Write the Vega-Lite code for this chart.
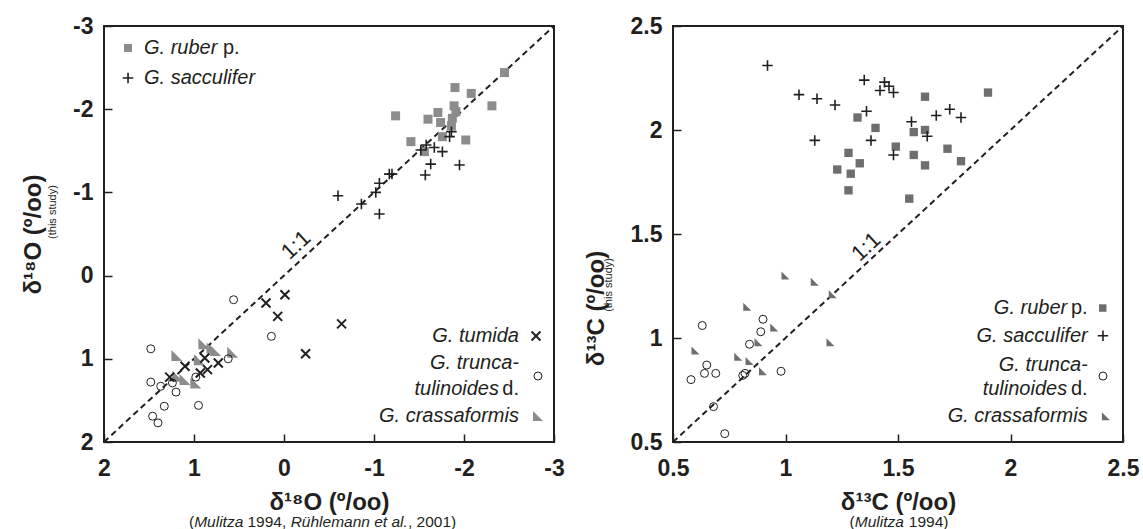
{
 "$schema": "https://vega.github.io/schema/vega-lite/v6.json",
 "padding": {"left": 20, "top": 14, "right": 5, "bottom": 5},
 "background": "white",
 "bounds": "flush",
 "spacing": 119,
 "config": {
  "view": {"stroke": "#231f20", "strokeWidth": 2},
  "font": "Liberation Sans",
  "axis": {"domain": false, "grid": false, "tickSize": -8, "tickWidth": 1.5, "tickColor": "#231f20",
   "labelFont": "Liberation Sans", "labelFontSize": 23, "labelFontWeight": "bold", "labelColor": "#231f20",
   "labelFlush": false, "labelOverlap": false,
   "titleFont": "Liberation Sans", "titleFontSize": 24, "titleFontWeight": "bold", "titleColor": "#231f20"},
  "axisX": {"labelPadding": 23, "titlePadding": 10},
  "axisY": {"labelPadding": 19, "titlePadding": 27},
  "text": {"font": "Liberation Sans", "color": "#231f20"}
 },
 "datasets": {
  "o18": [
   {"sp": "G. ruber p.", "x": -2.45, "y": -2.44}, {"sp": "G. ruber p.", "x": -1.90, "y": -2.26}, {"sp": "G. ruber p.", "x": -2.08, "y": -2.19},
   {"sp": "G. ruber p.", "x": -2.31, "y": -2.04}, {"sp": "G. ruber p.", "x": -1.24, "y": -1.92}, {"sp": "G. ruber p.", "x": -1.60, "y": -1.88},
   {"sp": "G. ruber p.", "x": -1.71, "y": -1.96}, {"sp": "G. ruber p.", "x": -1.74, "y": -1.84}, {"sp": "G. ruber p.", "x": -1.89, "y": -2.04},
   {"sp": "G. ruber p.", "x": -1.91, "y": -1.97}, {"sp": "G. ruber p.", "x": -1.87, "y": -1.89}, {"sp": "G. ruber p.", "x": -1.86, "y": -1.80},
   {"sp": "G. ruber p.", "x": -2.02, "y": -1.63}, {"sp": "G. ruber p.", "x": -1.41, "y": -1.61}, {"sp": "G. ruber p.", "x": -1.76, "y": -1.67},
   {"sp": "G. ruber p.", "x": -1.56, "y": -1.49},
   {"sp": "G. sacculifer", "x": -1.86, "y": -1.73}, {"sp": "G. sacculifer", "x": -1.84, "y": -1.67}, {"sp": "G. sacculifer", "x": -1.52, "y": -1.51},
   {"sp": "G. sacculifer", "x": -1.58, "y": -1.57}, {"sp": "G. sacculifer", "x": -1.67, "y": -1.54}, {"sp": "G. sacculifer", "x": -1.76, "y": -1.49},
   {"sp": "G. sacculifer", "x": -1.63, "y": -1.34}, {"sp": "G. sacculifer", "x": -1.95, "y": -1.33}, {"sp": "G. sacculifer", "x": -1.57, "y": -1.21},
   {"sp": "G. sacculifer", "x": -1.17, "y": -1.22}, {"sp": "G. sacculifer", "x": -1.20, "y": -1.22}, {"sp": "G. sacculifer", "x": -1.06, "y": -1.11},
   {"sp": "G. sacculifer", "x": -1.02, "y": -1.00}, {"sp": "G. sacculifer", "x": -0.86, "y": -0.86}, {"sp": "G. sacculifer", "x": -0.60, "y": -0.96},
   {"sp": "G. sacculifer", "x": -1.06, "y": -0.74},
   {"sp": "G. tumida", "x": -0.01, "y": 0.23}, {"sp": "G. tumida", "x": 0.20, "y": 0.33}, {"sp": "G. tumida", "x": 0.07, "y": 0.49},
   {"sp": "G. tumida", "x": -0.64, "y": 0.58}, {"sp": "G. tumida", "x": -0.24, "y": 0.94}, {"sp": "G. tumida", "x": 0.88, "y": 0.99},
   {"sp": "G. tumida", "x": 0.73, "y": 1.05}, {"sp": "G. tumida", "x": 0.85, "y": 1.13}, {"sp": "G. tumida", "x": 0.93, "y": 1.17},
   {"sp": "G. tumida", "x": 1.10, "y": 1.09}, {"sp": "G. tumida", "x": 1.27, "y": 1.22},
   {"sp": "G. truncatulinoides d.", "x": 0.56, "y": 0.29}, {"sp": "G. truncatulinoides d.", "x": 0.14, "y": 0.73}, {"sp": "G. truncatulinoides d.", "x": 1.48, "y": 0.88},
   {"sp": "G. truncatulinoides d.", "x": 0.62, "y": 1.00}, {"sp": "G. truncatulinoides d.", "x": 1.48, "y": 1.28}, {"sp": "G. truncatulinoides d.", "x": 1.37, "y": 1.33},
   {"sp": "G. truncatulinoides d.", "x": 1.24, "y": 1.29}, {"sp": "G. truncatulinoides d.", "x": 1.20, "y": 1.40}, {"sp": "G. truncatulinoides d.", "x": 0.98, "y": 1.22},
   {"sp": "G. truncatulinoides d.", "x": 1.33, "y": 1.57}, {"sp": "G. truncatulinoides d.", "x": 0.95, "y": 1.56}, {"sp": "G. truncatulinoides d.", "x": 1.46, "y": 1.69},
   {"sp": "G. truncatulinoides d.", "x": 1.40, "y": 1.77},
   {"sp": "G. crassaformis", "x": 1.19, "y": 0.96}, {"sp": "G. crassaformis", "x": 0.89, "y": 0.82}, {"sp": "G. crassaformis", "x": 0.80, "y": 0.87},
   {"sp": "G. crassaformis", "x": 0.76, "y": 0.90}, {"sp": "G. crassaformis", "x": 0.57, "y": 0.92}, {"sp": "G. crassaformis", "x": 0.94, "y": 1.01},
   {"sp": "G. crassaformis", "x": 1.18, "y": 1.21}, {"sp": "G. crassaformis", "x": 1.10, "y": 1.25}, {"sp": "G. crassaformis", "x": 0.98, "y": 1.29}
  ],
  "c13": [
   {"sp": "G. sacculifer", "x": 0.92, "y": 2.31}, {"sp": "G. sacculifer", "x": 1.06, "y": 2.17}, {"sp": "G. sacculifer", "x": 1.14, "y": 2.15},
   {"sp": "G. sacculifer", "x": 1.22, "y": 2.12}, {"sp": "G. sacculifer", "x": 1.35, "y": 2.24}, {"sp": "G. sacculifer", "x": 1.36, "y": 2.09},
   {"sp": "G. sacculifer", "x": 1.44, "y": 2.23}, {"sp": "G. sacculifer", "x": 1.42, "y": 2.19}, {"sp": "G. sacculifer", "x": 1.46, "y": 2.21},
   {"sp": "G. sacculifer", "x": 1.48, "y": 2.18}, {"sp": "G. sacculifer", "x": 1.56, "y": 2.04}, {"sp": "G. sacculifer", "x": 1.63, "y": 1.97},
   {"sp": "G. sacculifer", "x": 1.67, "y": 2.07}, {"sp": "G. sacculifer", "x": 1.73, "y": 2.10}, {"sp": "G. sacculifer", "x": 1.78, "y": 2.06},
   {"sp": "G. sacculifer", "x": 1.13, "y": 1.95}, {"sp": "G. sacculifer", "x": 1.38, "y": 1.95}, {"sp": "G. sacculifer", "x": 1.48, "y": 1.88},
   {"sp": "G. ruber p.", "x": 1.62, "y": 2.16}, {"sp": "G. ruber p.", "x": 1.90, "y": 2.18}, {"sp": "G. ruber p.", "x": 1.32, "y": 2.06},
   {"sp": "G. ruber p.", "x": 1.40, "y": 2.01}, {"sp": "G. ruber p.", "x": 1.57, "y": 1.99}, {"sp": "G. ruber p.", "x": 1.62, "y": 2.00},
   {"sp": "G. ruber p.", "x": 1.49, "y": 1.92}, {"sp": "G. ruber p.", "x": 1.28, "y": 1.89}, {"sp": "G. ruber p.", "x": 1.33, "y": 1.84},
   {"sp": "G. ruber p.", "x": 1.23, "y": 1.81}, {"sp": "G. ruber p.", "x": 1.29, "y": 1.79}, {"sp": "G. ruber p.", "x": 1.28, "y": 1.71},
   {"sp": "G. ruber p.", "x": 1.57, "y": 1.88}, {"sp": "G. ruber p.", "x": 1.62, "y": 1.83}, {"sp": "G. ruber p.", "x": 1.72, "y": 1.91},
   {"sp": "G. ruber p.", "x": 1.78, "y": 1.85}, {"sp": "G. ruber p.", "x": 1.55, "y": 1.67},
   {"sp": "G. crassaformis", "x": 1.00, "y": 1.30}, {"sp": "G. crassaformis", "x": 1.13, "y": 1.27}, {"sp": "G. crassaformis", "x": 1.21, "y": 1.21},
   {"sp": "G. crassaformis", "x": 0.83, "y": 1.15}, {"sp": "G. crassaformis", "x": 0.95, "y": 1.05}, {"sp": "G. crassaformis", "x": 0.60, "y": 0.94},
   {"sp": "G. crassaformis", "x": 0.79, "y": 0.91}, {"sp": "G. crassaformis", "x": 0.84, "y": 0.89}, {"sp": "G. crassaformis", "x": 0.88, "y": 0.98},
   {"sp": "G. crassaformis", "x": 0.90, "y": 0.84}, {"sp": "G. crassaformis", "x": 1.20, "y": 0.98},
   {"sp": "G. truncatulinoides d.", "x": 0.63, "y": 1.06}, {"sp": "G. truncatulinoides d.", "x": 0.90, "y": 1.09}, {"sp": "G. truncatulinoides d.", "x": 0.89, "y": 1.03},
   {"sp": "G. truncatulinoides d.", "x": 0.84, "y": 0.97}, {"sp": "G. truncatulinoides d.", "x": 0.58, "y": 0.80}, {"sp": "G. truncatulinoides d.", "x": 0.65, "y": 0.87},
   {"sp": "G. truncatulinoides d.", "x": 0.64, "y": 0.83}, {"sp": "G. truncatulinoides d.", "x": 0.69, "y": 0.83}, {"sp": "G. truncatulinoides d.", "x": 0.82, "y": 0.83},
   {"sp": "G. truncatulinoides d.", "x": 0.81, "y": 0.82}, {"sp": "G. truncatulinoides d.", "x": 0.98, "y": 0.84}, {"sp": "G. truncatulinoides d.", "x": 0.68, "y": 0.67},
   {"sp": "G. truncatulinoides d.", "x": 0.73, "y": 0.54}
  ],
  "o18key": [
   {"sp": "G. ruber p.", "x": 1.733, "y": -2.736}, {"sp": "G. sacculifer", "x": 1.733, "y": -2.375},
   {"sp": "G. tumida", "x": -2.8, "y": 0.726}, {"sp": "G. truncatulinoides d.", "x": -2.822, "y": 1.207},
   {"sp": "G. crassaformis", "x": -2.822, "y": 1.688}
  ],
  "c13key": [
   {"sp": "G. ruber p.", "x": 2.41, "y": 1.144}, {"sp": "G. sacculifer", "x": 2.411, "y": 1.011},
   {"sp": "G. truncatulinoides d.", "x": 2.411, "y": 0.817}, {"sp": "G. crassaformis", "x": 2.424, "y": 0.624}
  ]
 },
 "hconcat": [
  {
   "width": 450, "height": 416,
   "encoding": {
    "x": {"field": "x", "type": "quantitative", "scale": {"domain": [-3, 2], "reverse": true, "nice": false, "zero": false},
     "axis": {"values": [2, 1, 0, -1, -2, -3], "labelExpr": "'' + datum.value", "title": "δ¹⁸O (º/oo)"}},
    "y": {"field": "y", "type": "quantitative", "scale": {"domain": [-3, 2], "reverse": true, "nice": false, "zero": false},
     "axis": {"values": [2, 1, 0, -1, -2, -3], "labelExpr": "'' + datum.value", "title": "δ¹⁸O (º/oo)"}}
   },
   "layer": [
    {"data": {"values": [{"x": 2, "y": 2, "x2": -3, "y2": -3}]}, "mark": {"type": "rule", "strokeDash": [6, 4], "strokeWidth": 2, "color": "#231f20"},
     "encoding": {"x2": {"field": "x2"}, "y2": {"field": "y2"}}},
    {"data": {"values": [{"t": "1:1", "x": -0.133, "y": -0.368}]}, "mark": {"type": "text", "angle": 317, "fontSize": 22, "align": "center", "baseline": "middle"},
     "encoding": {"text": {"field": "t"}}},
    {"data": {"name": "o18"}, "transform": [{"filter": "datum.sp === 'G. crassaformis'"}],
     "mark": {"type": "point", "shape": "M-1,-1L1,1L-1,1Z", "size": 121, "filled": true, "color": "#8c8c8c", "opacity": 1}},
    {"data": {"name": "o18"}, "transform": [{"filter": "datum.sp === 'G. truncatulinoides d.'"}],
     "mark": {"type": "point", "shape": "circle", "size": 64, "filled": false, "color": "#231f20", "strokeWidth": 1, "opacity": 1}},
    {"data": {"name": "o18"}, "transform": [{"filter": "datum.sp === 'G. tumida'"}],
     "mark": {"type": "point", "shape": "M-1,-1L1,1M-1,1L1,-1", "size": 81, "filled": false, "color": "#231f20", "strokeWidth": 2, "opacity": 1}},
    {"data": {"name": "o18"}, "transform": [{"filter": "datum.sp === 'G. ruber p.'"}],
     "mark": {"type": "point", "shape": "square", "size": 81, "filled": true, "color": "#8c8c8c", "opacity": 1}},
    {"data": {"name": "o18"}, "transform": [{"filter": "datum.sp === 'G. sacculifer'"}],
     "mark": {"type": "point", "shape": "M-1,0L1,0M0,-1L0,1", "size": 110, "filled": false, "color": "#231f20", "strokeWidth": 1.6, "opacity": 1}},
    {"data": {"name": "o18key"}, "transform": [{"filter": "datum.sp === 'G. crassaformis'"}],
     "mark": {"type": "point", "shape": "M-1,-1L1,1L-1,1Z", "size": 100, "filled": true, "color": "#8c8c8c", "opacity": 1}},
    {"data": {"name": "o18key"}, "transform": [{"filter": "datum.sp === 'G. truncatulinoides d.'"}],
     "mark": {"type": "point", "shape": "circle", "size": 64, "filled": false, "color": "#231f20", "strokeWidth": 1, "opacity": 1}},
    {"data": {"name": "o18key"}, "transform": [{"filter": "datum.sp === 'G. tumida'"}],
     "mark": {"type": "point", "shape": "M-1,-1L1,1M-1,1L1,-1", "size": 81, "filled": false, "color": "#231f20", "strokeWidth": 2, "opacity": 1}},
    {"data": {"name": "o18key"}, "transform": [{"filter": "datum.sp === 'G. ruber p.'"}],
     "mark": {"type": "point", "shape": "square", "size": 64, "filled": true, "color": "#8c8c8c", "opacity": 1}},
    {"data": {"name": "o18key"}, "transform": [{"filter": "datum.sp === 'G. sacculifer'"}],
     "mark": {"type": "point", "shape": "M-1,0L1,0M0,-1L0,1", "size": 110, "filled": false, "color": "#231f20", "strokeWidth": 1.6, "opacity": 1}},
    {"data": {"values": [{"t": "G. ruber", "x": 1.556, "y": -2.736}, {"t": "G. sacculifer", "x": 1.556, "y": -2.375}]},
     "mark": {"type": "text", "align": "left", "baseline": "middle", "fontSize": 20, "fontStyle": "italic"}, "encoding": {"text": {"field": "t"}}},
    {"data": {"values": [{"t": "p.", "x": 0.678, "y": -2.736}]},
     "mark": {"type": "text", "align": "left", "baseline": "middle", "fontSize": 20}, "encoding": {"text": {"field": "t"}}},
    {"data": {"values": [{"t": "G. tumida", "x": -2.611, "y": 0.726}, {"t": "G. trunca-", "x": -2.611, "y": 1.045}, {"t": "tulinoides", "x": -2.389, "y": 1.363}, {"t": "G. crassaformis", "x": -2.611, "y": 1.688}]},
     "mark": {"type": "text", "align": "right", "baseline": "middle", "fontSize": 20, "fontStyle": "italic"}, "encoding": {"text": {"field": "t"}}},
    {"data": {"values": [{"t": "d.", "x": -2.611, "y": 1.363}]},
     "mark": {"type": "text", "align": "right", "baseline": "middle", "fontSize": 20}, "encoding": {"text": {"field": "t"}}},
    {"data": {"values": [{"t": "(", "x": 1.056, "y": 2.962}, {"t": "1994,", "x": 0.406, "y": 2.962}, {"t": ", 2001)", "x": -1.377, "y": 2.962}]},
     "mark": {"type": "text", "align": "left", "baseline": "middle", "fontSize": 15.5}, "encoding": {"text": {"field": "t"}}},
    {"data": {"values": [{"t": "Mulitza", "x": 0.998, "y": 2.962}, {"t": "Rühlemann et al.", "x": -0.074, "y": 2.962}]},
     "mark": {"type": "text", "align": "left", "baseline": "middle", "fontSize": 15.5, "fontStyle": "italic"}, "encoding": {"text": {"field": "t"}}},
    {"data": {"values": [{"t": "(this study)", "x": 2.567, "y": -0.764}]},
     "mark": {"type": "text", "align": "center", "baseline": "middle", "fontSize": 11, "angle": 270}, "encoding": {"text": {"field": "t"}}}
   ]
  },
  {
   "width": 450, "height": 416,
   "encoding": {
    "x": {"field": "x", "type": "quantitative", "scale": {"domain": [0.5, 2.5], "nice": false, "zero": false},
     "axis": {"values": [0.5, 1, 1.5, 2, 2.5], "labelExpr": "'' + datum.value", "title": "δ¹³C (º/oo)"}},
    "y": {"field": "y", "type": "quantitative", "scale": {"domain": [0.5, 2.5], "nice": false, "zero": false},
     "axis": {"values": [0.5, 1, 1.5, 2, 2.5], "labelExpr": "'' + datum.value", "title": "δ¹³C (º/oo)", "titlePadding": 22, "titleY": 282}}
   },
   "layer": [
    {"data": {"values": [{"x": 0.5, "y": 0.5, "x2": 2.5, "y2": 2.5}]}, "mark": {"type": "rule", "strokeDash": [6, 4], "strokeWidth": 2, "color": "#231f20"},
     "encoding": {"x2": {"field": "x2"}, "y2": {"field": "y2"}}},
    {"data": {"values": [{"t": "1:1", "x": 1.358, "y": 1.439}]}, "mark": {"type": "text", "angle": 317, "fontSize": 22, "align": "center", "baseline": "middle"},
     "encoding": {"text": {"field": "t"}}},
    {"data": {"name": "c13"}, "transform": [{"filter": "datum.sp === 'G. crassaformis'"}],
     "mark": {"type": "point", "shape": "M-1,-1L1,1L-1,1Z", "size": 64, "filled": true, "color": "#6e6e6e", "opacity": 1}},
    {"data": {"name": "c13"}, "transform": [{"filter": "datum.sp === 'G. truncatulinoides d.'"}],
     "mark": {"type": "point", "shape": "circle", "size": 64, "filled": false, "color": "#231f20", "strokeWidth": 1, "opacity": 1}},
    {"data": {"name": "c13"}, "transform": [{"filter": "datum.sp === 'G. ruber p.'"}],
     "mark": {"type": "point", "shape": "square", "size": 70, "filled": true, "color": "#6e6e6e", "opacity": 1}},
    {"data": {"name": "c13"}, "transform": [{"filter": "datum.sp === 'G. sacculifer'"}],
     "mark": {"type": "point", "shape": "M-1,0L1,0M0,-1L0,1", "size": 110, "filled": false, "color": "#231f20", "strokeWidth": 1.6, "opacity": 1}},
    {"data": {"name": "c13key"}, "transform": [{"filter": "datum.sp === 'G. crassaformis'"}],
     "mark": {"type": "point", "shape": "M-1,-1L1,1L-1,1Z", "size": 64, "filled": true, "color": "#6e6e6e", "opacity": 1}},
    {"data": {"name": "c13key"}, "transform": [{"filter": "datum.sp === 'G. truncatulinoides d.'"}],
     "mark": {"type": "point", "shape": "circle", "size": 64, "filled": false, "color": "#231f20", "strokeWidth": 1, "opacity": 1}},
    {"data": {"name": "c13key"}, "transform": [{"filter": "datum.sp === 'G. ruber p.'"}],
     "mark": {"type": "point", "shape": "square", "size": 56, "filled": true, "color": "#6e6e6e", "opacity": 1}},
    {"data": {"name": "c13key"}, "transform": [{"filter": "datum.sp === 'G. sacculifer'"}],
     "mark": {"type": "point", "shape": "M-1,0L1,0M0,-1L0,1", "size": 110, "filled": false, "color": "#231f20", "strokeWidth": 1.6, "opacity": 1}},
    {"data": {"values": [{"t": "G. ruber", "x": 2.252, "y": 1.144}, {"t": "G. sacculifer", "x": 2.343, "y": 1.011}, {"t": "G. trunca-", "x": 2.343, "y": 0.871}, {"t": "tulinoides", "x": 2.252, "y": 0.753}, {"t": "G. crassaformis", "x": 2.343, "y": 0.624}]},
     "mark": {"type": "text", "align": "right", "baseline": "middle", "fontSize": 20, "fontStyle": "italic"}, "encoding": {"text": {"field": "t"}}},
    {"data": {"values": [{"t": "p.", "x": 2.343, "y": 1.144}, {"t": "d.", "x": 2.343, "y": 0.753}]},
     "mark": {"type": "text", "align": "right", "baseline": "middle", "fontSize": 20}, "encoding": {"text": {"field": "t"}}},
    {"data": {"values": [{"t": "(", "x": 1.284, "y": 0.115}, {"t": "1994)", "x": 1.548, "y": 0.115}]},
     "mark": {"type": "text", "align": "left", "baseline": "middle", "fontSize": 15.5}, "encoding": {"text": {"field": "t"}}},
    {"data": {"values": [{"t": "Mulitza", "x": 1.308, "y": 0.115}]},
     "mark": {"type": "text", "align": "left", "baseline": "middle", "fontSize": 15.5, "fontStyle": "italic"}, "encoding": {"text": {"field": "t"}}},
    {"data": {"values": [{"t": "(this study)", "x": 0.216, "y": 1.255}]},
     "mark": {"type": "text", "align": "center", "baseline": "middle", "fontSize": 11, "angle": 270}, "encoding": {"text": {"field": "t"}}}
   ]
  }
 ]
}
